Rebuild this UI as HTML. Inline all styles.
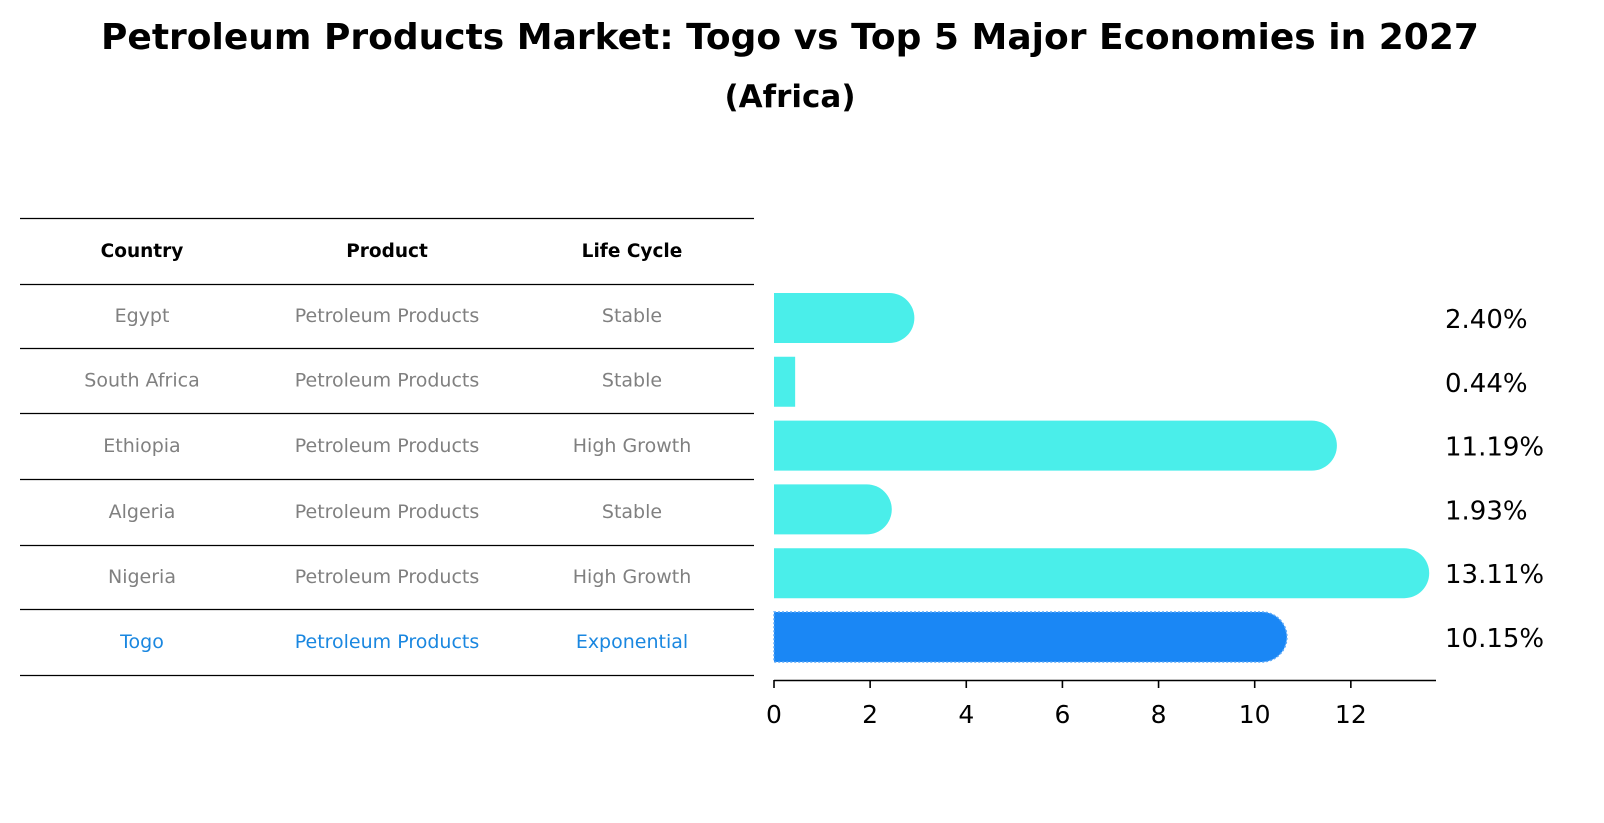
<!DOCTYPE html>
<html><head><meta charset="utf-8"><style>
html,body{margin:0;padding:0;background:#fff;}
svg{display:block;font-family:"DejaVu Sans","Liberation Sans",sans-serif;}
</style></head><body>
<svg id="chart" width="1604" height="823" viewBox="0 0 1604 823">
<text x="790" y="49" text-anchor="middle" font-size="36" font-weight="bold">Petroleum Products Market: Togo vs Top 5 Major Economies in 2027</text>
<text x="790" y="107" text-anchor="middle" font-size="31" font-weight="bold">(Africa)</text>
<g id="table"></g>
<g id="bars"></g>
<g id="xaxis"></g>
</svg>
<script>
const countries=["Egypt","South Africa","Ethiopia","Algeria","Nigeria","Togo"];
const products=["Petroleum Products","Petroleum Products","Petroleum Products","Petroleum Products","Petroleum Products","Petroleum Products"];
const lifeCycles=["Stable","Stable","High Growth","Stable","High Growth","Exponential"];
const values=[2.40,0.44,11.19,1.93,13.11,10.15];
const valueLabels=["2.40%","0.44%","11.19%","1.93%","13.11%","10.15%"];
const xTicks=[0,2,4,6,8,10,12];

const NS="http://www.w3.org/2000/svg";
function mk(tag,attrs,parent){const e=document.createElementNS(NS,tag);for(const k in attrs)e.setAttribute(k,attrs[k]);parent.appendChild(e);return e;}
const X0=774,XS=48.07;
function xs(v){return X0+v*XS;}
const barTop0=293,rowStep=63.8,barH=50;
function yb(i){return barTop0+i*rowStep;}

// table
const tbl=document.getElementById('table');
const lineYs=[218,284,348,413,479,545,609,675];
lineYs.forEach((y,i)=>{const l=mk('line',{x1:20,x2:754,y1:y+0.5,y2:y+0.5,stroke:'#000','stroke-width':1.2},tbl);

});
const colX=[142,387,632];
["Country","Product","Life Cycle"].forEach((h,j)=>{const t=mk('text',{x:colX[j],y:257,'text-anchor':'middle','font-size':18.5,'font-weight':'bold'},tbl);t.textContent=h;

});
countries.forEach((c,i)=>{
  const y=(lineYs[i+1]+lineYs[i+2])/2+6;
  const col=i===countries.length-1?'#1a87e0':'#808080';
  [c,products[i],lifeCycles[i]].forEach((s,j)=>{const t=mk('text',{x:colX[j],y:y,'text-anchor':'middle','font-size':19,fill:col},tbl);t.textContent=s;
  
  });
});

// bars
const bg=document.getElementById('bars');
values.forEach((v,i)=>{
  const y=yb(i),r=barH/2,xe=xs(v);
  const isTogo=i===values.length-1;
  const col=isTogo?'#1a87f5':'#4aeeea';
  let d;
  if(v>1){d=`M${X0},${y} H${xe} A${r},${r} 0 0 1 ${xe},${y+barH} H${X0} Z`;}
  else{d=`M${X0},${y} H${xe} V${y+barH} H${X0} Z`;}
  const p=mk('path',{d:d,fill:col},bg);
  if(isTogo){p.setAttribute('stroke','#5aa8f8');p.setAttribute('stroke-width','1.5');p.setAttribute('stroke-dasharray','2,2');}
  
  
  const t=mk('text',{x:1445,y:y+barH/2+10,'font-size':26},bg);t.textContent=valueLabels[i];
  
  
});

// x axis
const xa=document.getElementById('xaxis');
const al=mk('line',{x1:X0,x2:1436,y1:680.5,y2:680.5,stroke:'#000','stroke-width':1.6},xa);


xTicks.forEach(v=>{
  const tk=mk('line',{x1:xs(v),x2:xs(v),y1:680,y2:688,stroke:'#000','stroke-width':1.6},xa);
  
  
  const t=mk('text',{x:xs(v),y:723,'text-anchor':'middle','font-size':25},xa);t.textContent=v;
  
  
});
</script>
</body></html>
